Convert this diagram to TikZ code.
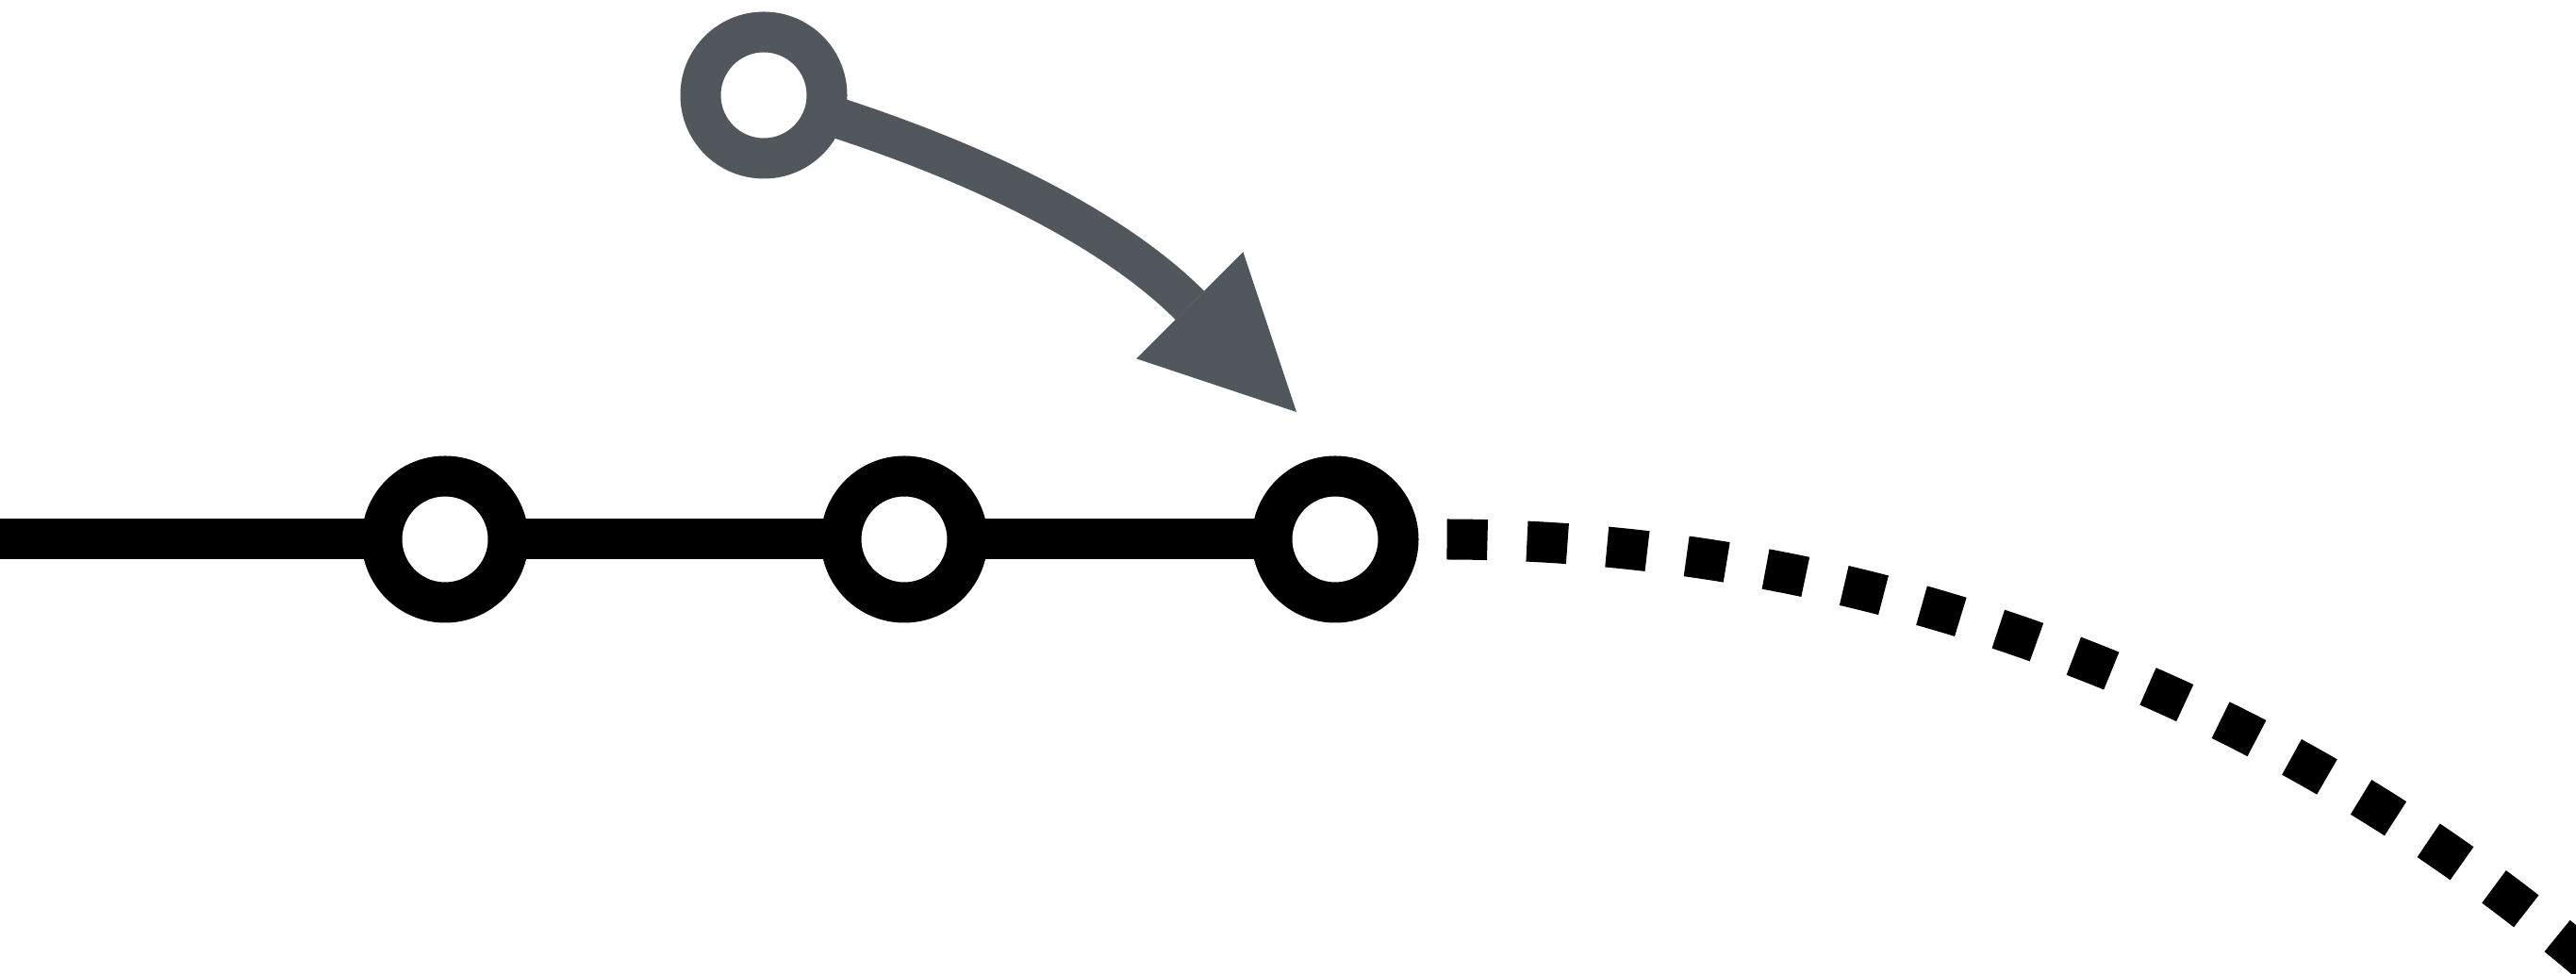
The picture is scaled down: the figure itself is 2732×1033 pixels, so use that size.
\documentclass[tikz,border=0pt]{standalone}
\usepackage{tikz}
\usetikzlibrary{arrows.meta,positioning}
\definecolor{arrowgray}{RGB}{82,87,94}

\begin{document}
\begin{tikzpicture}[x=0.1mm, y=0.1mm, node distance=4.8cm]
\tikzset{ring/.style = {draw, circle, fill=white, line width=4.3mm,
  inner sep=0pt, minimum size=13.4mm}}
\tikzset{track/.style = {draw, line width=4.3mm}}
\tikzset{dotline/.style = {draw, line width=4.3mm,
  dash pattern=on 4.3mm off 4.2mm, dash phase=5.5mm}}
\tikzset{jump/.style = {draw=arrowgray, line width=4.3mm,
  -{Triangle[length=16mm, width=16mm, line width=0pt]}}}
\pgfdeclarelayer{background}
\pgfsetlayers{background,main}

  \useasboundingbox (0,0) rectangle (2732,1033);
  \clip (0,0) rectangle (2732,1033);

  \node[ring] at (472,461) (stop1){};
  \node[ring, node distance=4.87cm, right of=stop1] (stop2){};
  \node[ring, node distance=4.57cm, right of=stop2] (stop3){};

  \node[ring, draw=arrowgray] at (810,932) (newstop){};
  \coordinate (landing) at (1375,596);
  \coordinate (origin) at (0,461);

  \begin{pgfonlayer}{background}
    \draw[track] (origin) -- (stop3.center);
    \draw[jump] (newstop.center) to[out=-16, in=135] (landing);
  \end{pgfonlayer}

  \draw[dotline] (stop3.east) -- ++(26,0) 
    arc[start angle=90, end angle=44, radius=187mm];

\end{tikzpicture}
\end{document}
